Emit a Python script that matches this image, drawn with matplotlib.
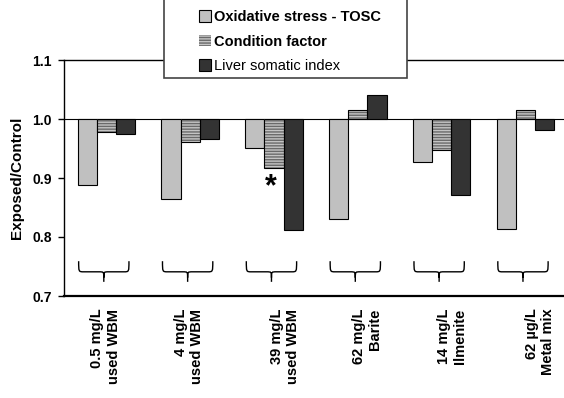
import matplotlib
matplotlib.use("Agg")
import matplotlib.pyplot as plt
from matplotlib.patches import Rectangle, PathPatch
from matplotlib.path import Path
import numpy as np

plt.rcParams['font.family'] = ['Liberation Sans', 'DejaVu Sans']

# exposure groups and their exposed/control ratios
groups = ["0.5 mg/L\nused WBM", "4 mg/L\nused WBM", "39 mg/L\nused WBM",
          "62 mg/L\nBarite", "14 mg/L\nIlmenite", "62 µg/L\nMetal mix"]
series_names = ["Oxidative stress - TOSC", "Condition factor", "Liver somatic index"]
tosc = [0.888, 0.865, 0.951, 0.831, 0.927, 0.814]
condition = [0.978, 0.961, 0.917, 1.015, 0.948, 1.015]
lsi = [0.975, 0.966, 0.812, 1.041, 0.871, 0.982]
baseline = 1.0
significant = [(2, 1)]  # (group, series) flagged with an asterisk

W, H = 564, 398
fig = plt.figure(figsize=(W / 100, H / 100), dpi=100)
ax = fig.add_axes([64.4 / W, 102 / H, 503 / W, 236 / H])

x = np.arange(len(groups))
bw = 0.229

# bars hang from the 1.0 baseline
b1 = ax.bar(x - bw, np.array(tosc) - baseline, bw, bottom=baseline,
            color="#c0c0c0", edgecolor="black", linewidth=0.8, zorder=3)
b2 = ax.bar(x, np.array(condition) - baseline, bw, bottom=baseline,
            color="#c4c4c4", edgecolor="#6a6a6a", hatch="------", linewidth=0, zorder=3)
ax.bar(x, np.array(condition) - baseline, bw, bottom=baseline,
       fill=False, edgecolor="black", linewidth=0.8, zorder=4)
b3 = ax.bar(x + bw, np.array(lsi) - baseline, bw, bottom=baseline,
            color="#333333", edgecolor="black", linewidth=0.8, zorder=3)

ax.axhline(baseline, color="black", linewidth=0.8, zorder=2)

for g, s in significant:
    ax.text(x[g] + (s - 1) * bw - 0.04, condition[g] - 0.032, "*",
            ha="center", va="center", fontsize=22, fontweight="bold")

# curly braces under each group
y_end, y_mid, y_tip = 0.759, 0.741, 0.724
half, r, dip = 0.30, 0.06, 0.010
for xc in x - 0.03:
    x0, x1 = xc - half, xc + half
    verts = [
        (x0, y_end), (x0, y_mid), (x0, y_mid), (x0 + r, y_mid),
        (xc - r, y_mid), (xc, y_mid), (xc, y_mid), (xc, y_mid - dip),
        (xc, y_tip),
        (x1, y_end), (x1, y_mid), (x1, y_mid), (x1 - r, y_mid),
        (xc + r, y_mid), (xc, y_mid), (xc, y_mid), (xc, y_mid - dip),
    ]
    codes = [Path.MOVETO, Path.CURVE4, Path.CURVE4, Path.CURVE4,
             Path.LINETO, Path.CURVE4, Path.CURVE4, Path.CURVE4,
             Path.LINETO,
             Path.MOVETO, Path.CURVE4, Path.CURVE4, Path.CURVE4,
             Path.LINETO, Path.CURVE4, Path.CURVE4, Path.CURVE4]
    ax.add_patch(PathPatch(Path(verts, codes), fill=False, edgecolor="black",
                           linewidth=1.0, zorder=3))

ax.set_xlim(-0.5, len(groups) - 0.5)
ax.set_ylim(0.7, 1.1)
ax.set_yticks([0.7, 0.8, 0.9, 1.0, 1.1])
ax.set_yticklabels(["0.7", "0.8", "0.9", "1.0", "1.1"], fontsize=10, fontweight="bold")
label_shift = [-0.01, -0.01, 0.13, 0.11, 0.12, 0.17]
ax.set_xticks(x + np.array(label_shift))
ax.set_xticklabels(groups, rotation=90, va="top", ha="center", multialignment="right",
                   fontsize=10.5, fontweight="bold")
ax.tick_params(axis="x", length=0, pad=9)
ax.tick_params(axis="y", direction="out", length=4, width=1, pad=5)
ax.set_ylabel("Exposed/Control", fontsize=11, fontweight="bold", labelpad=6)

for side in ["left", "top", "right"]:
    ax.spines[side].set_linewidth(1.0)
ax.spines["bottom"].set_linewidth(1.6)

# legend box, running off the top of the figure
fig.patches.append(Rectangle((164 / W, (H - 78) / H), 243 / W, 0.3,
                             transform=fig.transFigure, facecolor="white",
                             edgecolor="#444444", linewidth=1.2, zorder=2))
leg = fig.legend([b1, b2, b3], series_names, loc="upper left",
                 bbox_to_anchor=(199 / W, (H - 10) / H), frameon=False,
                 fontsize=10.5, handlelength=0.8, handleheight=0.8,
                 handletextpad=0.2, labelspacing=0.72, borderpad=0, borderaxespad=0)
for i, t in enumerate(leg.get_texts()):
    t.set_fontweight("normal" if i == 2 else "bold")

fig.savefig("out.png", dpi=100)
